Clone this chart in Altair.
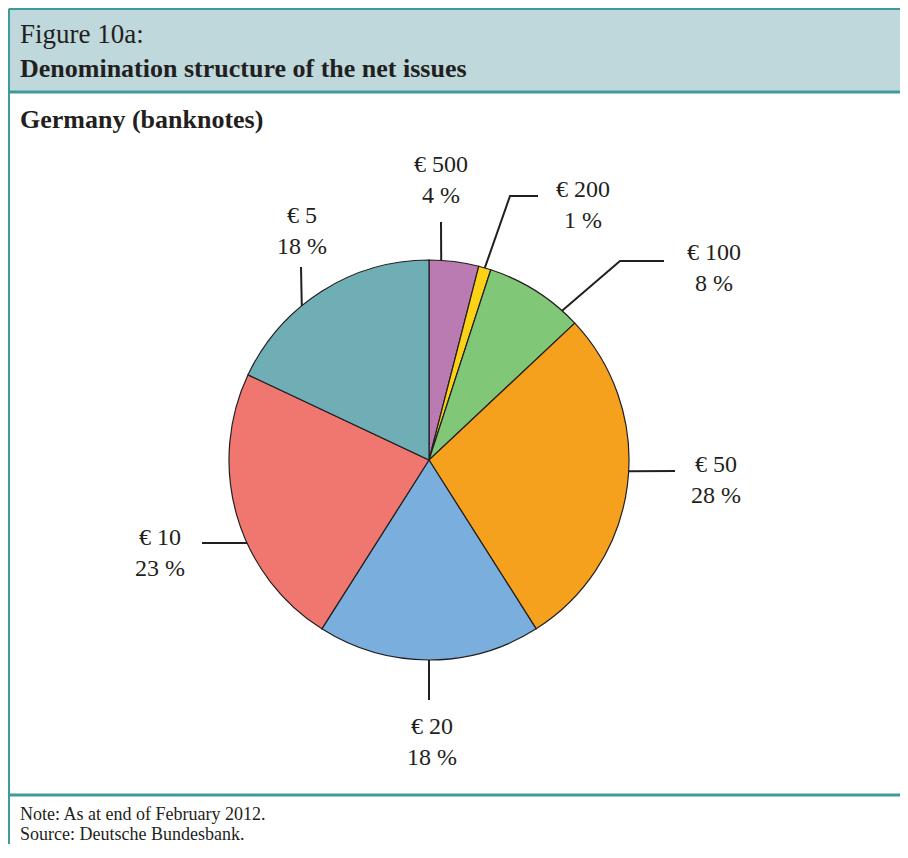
import math
import altair as alt
import pandas as pd

# ---- data ----
denominations = ["€ 500", "€ 200", "€ 100", "€ 50", "€ 20", "€ 10", "€ 5"]
shares = [4, 1, 8, 28, 18, 23, 18]
slice_colors = ["#b97bb2", "#fcd116", "#80c878", "#f5a11e", "#7aaedc", "#f07770", "#6faeb4"]

title_small = "Figure 10a:"
title_bold = "Denomination structure of the net issues"
subtitle = "Germany (banknotes)"
notes = ["Note: As at end of February 2012.", "Source: Deutsche Bundesbank."]

# ---- layout (reference pixel frame) ----
W, H = 892, 836
X0, Y0 = 8, 8
CX, CY, R = 429, 460, 200
INK = "#231f20"
TEAL = "#3f9a9e"
HEAD_BG = "#bed8dc"
FONT = "Liberation Serif"

# leader: angle on pie rim (deg clockwise from 12 o'clock), further points, label centre
leader_layout = {
    "€ 500": dict(angle=3.5, pts=[(441, 222)], label=(441, 165)),
    "€ 200": dict(angle=16.2, pts=[(510, 196), (538, 196)], label=(583, 190)),
    "€ 100": dict(angle=41.7, pts=[(620, 261), (664, 261)], label=(714, 253)),
    "€ 50": dict(angle=93.2, pts=[(675, 471)], label=(716, 465)),
    "€ 20": dict(angle=180.0, pts=[(429, 700)], label=(432, 727)),
    "€ 10": dict(angle=245.5, pts=[(202, 543)], label=(160, 538)),
    "€ 5": dict(angle=320.5, pts=[(301, 267)], label=(302, 216)),
}
LINE_GAP = 31

pie_df = pd.DataFrame({"denom": denominations, "share": shares,
                       "idx": list(range(len(shares)))})

lrows, trows = [], []
for d, s in zip(denominations, shares):
    lay = leader_layout[d]
    a = math.radians(lay["angle"])
    pts = [(CX + R * math.sin(a), CY - R * math.cos(a))] + lay["pts"]
    for k, (px, py) in enumerate(pts):
        lrows.append({"denom": d, "k": k, "x": px, "y": py})
    lx, ly = lay["label"]
    trows.append({"x": lx, "y": ly, "t": d})
    trows.append({"x": lx, "y": ly + LINE_GAP, "t": f"{s} %"})
leader_df = pd.DataFrame(lrows)
label_df = pd.DataFrame(trows)

xs = alt.Scale(domain=[X0, X0 + W], nice=False, zero=False)
ys = alt.Scale(domain=[Y0, Y0 + H], nice=False, zero=False, reverse=True)


def X(v):
    return alt.X(v, type="quantitative", scale=xs, axis=None) if isinstance(v, str) else alt.XDatum(v, type="quantitative", scale=xs, axis=None)


def Y(v):
    return alt.Y(v, type="quantitative", scale=ys, axis=None) if isinstance(v, str) else alt.YDatum(v, type="quantitative", scale=ys, axis=None)


base = alt.Chart(pd.DataFrame({"a": [0]}))

header_bg = base.mark_rect(fill=HEAD_BG).encode(
    x=X(X0), x2=alt.X2Datum(X0 + W), y=Y(X0), y2=alt.Y2Datum(92))

frame_rows = pd.DataFrame([
    {"x": 9, "y": 9, "x2": X0 + W, "y2": 9, "w": 2},
    {"x": 9, "y": 9, "x2": 9, "y2": Y0 + H, "w": 2},
    {"x": 9, "y": 92, "x2": X0 + W, "y2": 92, "w": 3},
    {"x": 9, "y": 795, "x2": X0 + W, "y2": 795, "w": 3},
])
frame = alt.Chart(frame_rows).mark_rule(color=TEAL).encode(
    x=X("x"), x2="x2", y=Y("y"), y2="y2",
    strokeWidth=alt.StrokeWidth("w:Q", scale=None))

head_texts = pd.DataFrame([
    {"x": 20, "y": 35, "t": title_small, "b": "normal", "s": 27},
    {"x": 20, "y": 69, "t": title_bold, "b": "bold", "s": 26},
    {"x": 20, "y": 120, "t": subtitle, "b": "bold", "s": 26},
    {"x": 20, "y": 815, "t": notes[0], "b": "normal", "s": 18},
    {"x": 20, "y": 835, "t": notes[1], "b": "normal", "s": 18},
])
texts = alt.layer(*[
    alt.Chart(head_texts[head_texts.t == r.t]).mark_text(
        font=FONT, fontSize=r.s, fontWeight=r.b, align="left", baseline="middle", color=INK
    ).encode(x=X("x"), y=Y("y"), text="t:N")
    for r in head_texts.itertuples()
])

pie = alt.Chart(pie_df).mark_arc(outerRadius=R, stroke=INK, strokeWidth=1.2).encode(
    theta=alt.Theta("share:Q", stack=True),
    order=alt.Order("idx:Q"),
    color=alt.Color("denom:N", scale=alt.Scale(domain=denominations, range=slice_colors), legend=None),
    x=X(CX), y=Y(CY),
)

leaders = alt.Chart(leader_df).mark_line(color=INK, strokeWidth=2).encode(
    x=X("x"), y=Y("y"), detail="denom:N", order="k:Q")

labels = alt.Chart(label_df).mark_text(
    font=FONT, fontSize=24, align="center", baseline="middle", color=INK
).encode(x=X("x"), y=Y("y"), text="t:N")

chart = alt.layer(header_bg, frame, texts, pie, leaders, labels).properties(
    width=W, height=H, padding=0, autosize=alt.AutoSizeParams(type="none")
).configure_view(stroke=None)

chart.save("out.html", embed_options={"renderer": "svg", "actions": False})
